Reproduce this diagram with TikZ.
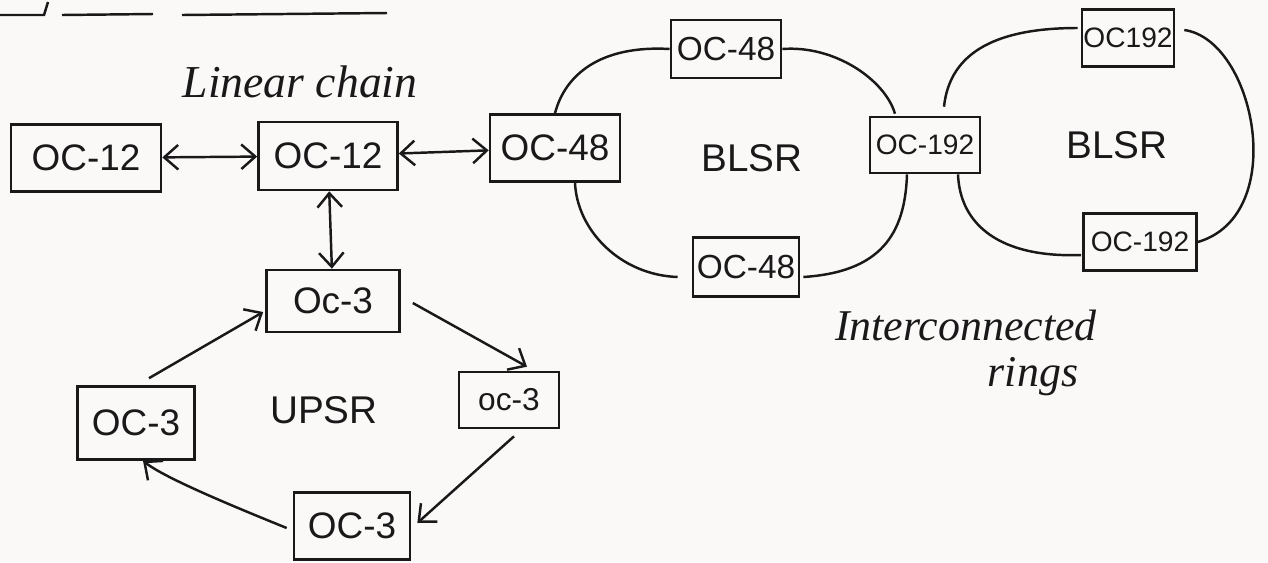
\documentclass[tikz,border=0pt]{standalone}
\usepackage{fontspec}
\setmainfont{Liberation Sans}
\newfontfamily\handit{Liberation Serif}
\usetikzlibrary{arrows.meta}
\definecolor{ink}{RGB}{25,25,25}
\definecolor{paper}{RGB}{251,248,248}
\begin{document}
\begin{tikzpicture}[x=0.02cm,y=-0.02cm,
  ocbox/.style 2 args={draw=ink, line width=1.5pt, inner sep=0pt,
    minimum width=#1*0.02cm, minimum height=#2*0.02cm,
    font=\fontsize{21}{21}\selectfont, text=ink},
  small/.style={font=\fontsize{16}{16}\selectfont},
  mid/.style={font=\fontsize{19}{19}\selectfont},
  ring/.style={draw=ink, line width=1.4pt},
  link/.style={draw=ink, line width=1.4pt,
    {Straight Barb[length=8pt,width=14pt]}-{Straight Barb[length=8pt,width=14pt]}},
  oneway/.style={draw=ink, line width=1.4pt, -{Straight Barb[length=8pt,width=14pt]}},
  lbl/.style={text=ink, font=\fontsize{22}{22}\selectfont},
  hand/.style={text=ink, inner sep=0pt, font=\handit\itshape\fontsize{26}{26}\selectfont}]
\fill[paper] (0,0) rectangle (1268,562);
\useasboundingbox (0,0) rectangle (1268,562);

% top underlines (remains of a heading)
\draw[ring] (0,15) -- (44,15) -- (48,2);
\draw[ring] (62,15) -- (153,14);
\draw[ring] (182,15) -- (387,13);

% linear chain
\node[ocbox={150}{67}] (a) at (86,158) {OC-12};
\node[ocbox={139}{68}] (b) at (328,156) {OC-12};
\node[ocbox={130}{67}] (c) at (555,148) {OC-48};
\node[hand] (lin) at (300,82) {Linear chain};
\draw[link] (a) -- (b);
\draw[link] (b) -- (c);

% first BLSR ring
\node[ocbox={110}{58}, mid] (d) at (726,49) {OC-48};
\node[ocbox={106}{59}, mid] (e) at (746,267) {OC-48};
\node[ocbox={110}{56}, small] (f) at (925,145) {OC-192};
\node[lbl] (blsr1) at (752,158) {BLSR};
\draw[ring] (c.north) .. controls (565,75) and (600,45) .. (d.west);
\draw[ring] (d.east) .. controls (835,45) and (885,80) .. ([shift={(-30,-2)}]f.north);
\draw[ring] ([shift={(-18,0)}]f.south) .. controls (905,235) and (880,272) .. ([shift={(3,10)}]e.east);
\draw[ring] ([shift={(-14,10)}]e.west) .. controls (620,275) and (577,230) .. ([shift={(20,0)}]c.south);

% second BLSR ring
\node[ocbox={92}{57}, small] (g) at (1128,38) {OC192};
\node[ocbox={113}{57}, small] (h) at (1140,242) {OC-192};
\node[lbl] (blsr2) at (1117,145) {BLSR};
\draw[ring] ([shift={(19,-9)}]f.north) .. controls (950,50) and (1000,28) .. ([shift={(-3,-10)}]g.west);
\draw[ring] ([shift={(9,-8)}]g.east) .. controls (1255,40) and (1290,215) .. (h.east);
\draw[ring] ([shift={(-1,13)}]h.west) .. controls (1000,258) and (960,225) .. ([shift={(33,0)}]f.south);
\node[hand, anchor=base, font=\handit\itshape\fontsize{25}{25}\selectfont] (inter) at (966,340) {Interconnected};
\node[hand, anchor=base, font=\handit\itshape\fontsize{25}{25}\selectfont] (rings) at (1033,386) {rings};

% UPSR ring
\node[ocbox={133}{62}, font=\fontsize{21}{21}\selectfont] (i) at (333,301) {Oc-3};
\node[ocbox={117}{73}, font=\fontsize{21}{21}\selectfont] (k) at (136,423) {OC-3};
\node[ocbox={100}{56}, font=\fontsize{18}{18}\selectfont] (j) at (509,400) {oc-3};
\node[ocbox={116}{67}, font=\fontsize{21}{21}\selectfont] (l) at (352,526) {OC-3};
\node[lbl] (upsr) at (324,410) {UPSR};
\draw[link] (b) -- (i);
\draw[oneway] ([shift={(13,-7)}]k.north) -- ([shift={(-2,11)}]i.west);
\draw[oneway] ([shift={(12,2)}]i.east) -- ([shift={(18,-4)}]j.north);
\draw[oneway] ([shift={(5,7)}]j.south) -- ([shift={(6,-3)}]l.east);
\draw[oneway] ([shift={(-6,2)}]l.west) .. controls (230,505) and (165,478) .. ([shift={(7,0)}]k.south);
\end{tikzpicture}
\end{document}
